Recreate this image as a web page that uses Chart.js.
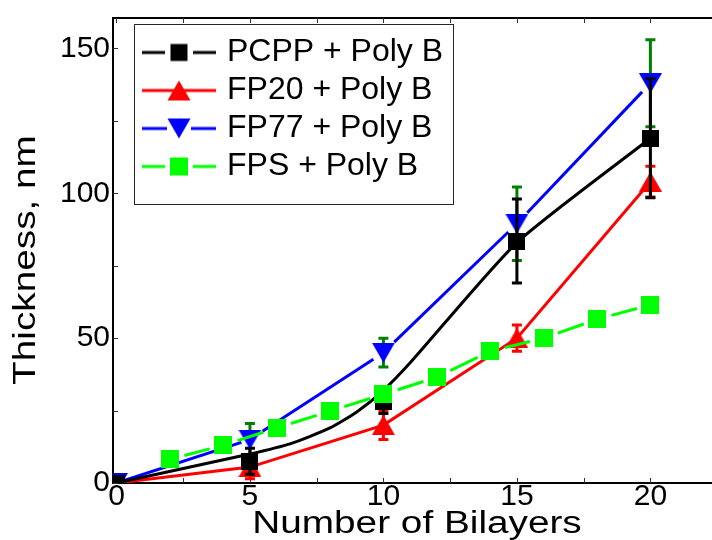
<!DOCTYPE html>
<html>
<head>
<meta charset="utf-8">
<script src="https://cdn.jsdelivr.net/npm/chart.js@4.4.1/dist/chart.umd.min.js"></script>
<style>
  html, body { margin: 0; padding: 0; background: #fff; overflow: hidden; }
  #wrap { width: 712px; height: 540px; overflow: hidden; }
  canvas { display: block; }
</style>
</head>
<body>
<div id="wrap"><canvas id="myChart" width="740" height="540"></canvas></div>
<script>
// values
const bilayers = [0, 5, 10, 15, 20];
const pcpp = [0, 7.5, 28, 83.5, 119];
const pcppErr = [0, 4.5, 4, 14.5, 20.5];
const fp20 = [0, 5.5, 20, 50, 104];
const fp20Err = [0, 4, 5, 4.5, 5.3];
const fp77 = [0, 15, 45, 89.5, 138];
const fp77Err = [0, 5.5, 5, 12.7, 15];
const fpsBilayers = [2, 4, 6, 8, 10, 12, 14, 16, 18, 20];
const fps = [8.2, 13, 19, 24.8, 30.6, 36.5, 45.5, 50, 56.5, 61.5];
// guide line drawn through the PCPP data
const fitBilayers = [0, 2.5, 5, 6.5, 8, 9, 10, 11, 15, 20];
const pcppFit = [0, 5, 10, 13.5, 19, 24.5, 32, 41.5, 83, 119];

const seriesLabels = ["PCPP + Poly B", "FP20 + Poly B", "FP77 + Poly B", "FPS + Poly B"];
const xTickValues = [0, 5, 10, 15, 20];
const yTickValues = [0, 50, 100, 150];
const xMinorTicks = [0, 2.5, 5, 7.5, 10, 12.5, 15, 17.5, 20, 22.5];
const yMinorTicks = [0, 25, 50, 75, 100, 125, 150];

const FONT = "'Liberation Sans', Arial, sans-serif";
Chart.defaults.font.family = FONT;

const BLACK = "#000000", RED = "#ff0000", BLUE = "#0000ff", GREEN = "#00ff00", DARKGREEN = "#008000";

function icon(w, h, ...painters) {
  const c = document.createElement("canvas");
  c.width = w; c.height = h;
  const g = c.getContext("2d");
  painters.forEach(p => p(g, w, h));
  return c;
}
function square(color, s) {
  return (g, w, h) => { g.fillStyle = color; g.fillRect((w - s) / 2, (h - s) / 2, s, s); };
}
function triangle(color, tw, th, down) {
  return (g, w, h) => {
    const x0 = (w - tw) / 2, y0 = (h - th) / 2;
    g.fillStyle = color;
    g.beginPath();
    if (down) { g.moveTo(x0, y0); g.lineTo(x0 + tw, y0); g.lineTo(w / 2, y0 + th); }
    else { g.moveTo(w / 2, y0); g.lineTo(x0 + tw, y0 + th); g.lineTo(x0, y0 + th); }
    g.closePath();
    g.fill();
  };
}
function strokes(color, segs) {
  return (g, w, h) => {
    g.strokeStyle = color; g.lineWidth = 3;
    g.beginPath();
    segs.forEach(([a, b]) => { g.moveTo(a, h / 2); g.lineTo(b, h / 2); });
    g.stroke();
  };
}

const markerBlack = icon(17, 17, square(BLACK, 17));
const markerRed = icon(23, 20, triangle(RED, 23, 20, false));
const markerBlue = icon(23, 20, triangle(BLUE, 23, 20, true));
const markerGreen = icon(18, 18, square(GREEN, 18));

const legendIcons = [
  icon(74, 24, strokes(BLACK, [[0, 23], [51, 74]]), square(BLACK, 17)),
  icon(74, 24, strokes(RED, [[0, 74]]), triangle(RED, 23, 20, false)),
  icon(74, 24, strokes(BLUE, [[0, 25], [49, 74]]), triangle(BLUE, 23, 20, true)),
  icon(74, 24, strokes(GREEN, [[0, 23], [51, 74]]), square(GREEN, 18))
];

// one dash per segment, leaving a small gap at each marker
function gapDash(gapOut, gapIn) {
  return {
    borderDash: c => {
      const len = Math.hypot(c.p1.x - c.p0.x, c.p1.y - c.p0.y);
      return [Math.max(len - gapOut(c.p0DataIndex) - gapIn(c.p1DataIndex), 0.01), 4000];
    },
    borderDashOffset: c => -gapOut(c.p0DataIndex) - c.p0DataIndex * 0.001
  };
}

const pts = (xs, ys) => xs.map((x, i) => ({ x: x, y: ys[i] }));

const errorBars = {
  0: { values: pcpp, err: pcppErr, color: BLACK },
  1: { values: fp20, err: fp20Err, color: RED },
  2: { values: fp77, err: fp77Err, color: DARKGREEN }
};

const errorBarPlugin = {
  id: "errorBars",
  beforeDatasetDraw(chart, args) {
    const bars = errorBars[args.index];
    if (!bars) return;
    const ctx = chart.ctx, y = chart.scales.y;
    ctx.save();
    ctx.strokeStyle = bars.color;
    ctx.lineWidth = 3;
    ctx.beginPath();
    args.meta.data.forEach((pt, i) => {
      const e = bars.err[i];
      if (!e) return;
      const top = y.getPixelForValue(bars.values[i] + e);
      const bot = y.getPixelForValue(bars.values[i] - e);
      ctx.moveTo(pt.x, top); ctx.lineTo(pt.x, bot);
      ctx.moveTo(pt.x - 5, top); ctx.lineTo(pt.x + 5, top);
      ctx.moveTo(pt.x - 5, bot); ctx.lineTo(pt.x + 5, bot);
    });
    ctx.stroke();
    ctx.restore();
  }
};

const framePlugin = {
  id: "frame",
  afterLayout(chart) {
    // the axis titles in the figure are stretched along the text direction
    ["x", "y"].forEach(id => {
      const s = chart.scales[id];
      if (s._stretched) return;
      const orig = s.drawTitle;
      s.drawTitle = function () {
        const ctx = this.ctx;
        ctx.save();
        if (this.axis === "y") {
          const cy = (this.top + this.bottom) / 2 + 9.5;
          ctx.translate(0, cy); ctx.scale(1, 1.25); ctx.translate(0, -cy + 9.5);
        } else {
          const cx = (this.left + this.right) / 2 + 1;
          ctx.translate(cx, 0); ctx.scale(1.25, 1); ctx.translate(-cx + 1, 0);
        }
        orig.call(this);
        ctx.restore();
      };
      s._stretched = true;
    });
  },
  beforeDraw(chart) {
    const lg = chart.legend;
    lg.left = chart.chartArea.left + 28;
    lg.top = chart.chartArea.top + 12.5;
  },
  beforeDatasetsDraw(chart) {
    const { ctx, chartArea: a, scales: { x, y } } = chart;
    const lg = chart.legend;
    ctx.save();
    ctx.strokeStyle = "#262626";
    ctx.lineWidth = 1;
    ctx.strokeRect(Math.round(lg.left - 7) + 0.5, Math.round(lg.top - 7) + 0.5, 319, 180);

    ctx.strokeStyle = "#000";
    ctx.lineWidth = 2;
    ctx.beginPath();
    ctx.moveTo(a.left, a.top); ctx.lineTo(a.right, a.top);
    ctx.stroke();

    ctx.lineWidth = 1;
    ctx.strokeStyle = "#333";
    ctx.beginPath();
    xMinorTicks.forEach(v => {
      const px = Math.round(x.getPixelForValue(v)) + 0.5;
      ctx.moveTo(px, a.bottom); ctx.lineTo(px, a.bottom - 5);
      ctx.moveTo(px, a.top); ctx.lineTo(px, a.top + 5);
    });
    yMinorTicks.forEach(v => {
      const py = Math.round(y.getPixelForValue(v)) + 0.5;
      ctx.moveTo(a.left, py); ctx.lineTo(a.left + 5, py);
    });
    ctx.stroke();
    ctx.restore();
  }
};

new Chart(document.getElementById("myChart"), {
  type: "line",
  data: {
    datasets: [
      {
        label: seriesLabels[0],
        data: pts(bilayers, pcpp),
        showLine: false,
        pointStyle: markerBlack,
        pointRadius: 9,
        borderColor: BLACK,
        backgroundColor: BLACK,
        order: 2,
        clip: 0
      },
      {
        label: seriesLabels[1],
        data: pts(bilayers, fp20),
        borderColor: RED,
        backgroundColor: RED,
        borderWidth: 3,
        pointStyle: markerRed,
        pointRadius: 10,
        order: 5,
        clip: 0
      },
      {
        label: seriesLabels[2],
        data: pts(bilayers, fp77),
        borderColor: BLUE,
        backgroundColor: BLUE,
        borderWidth: 3,
        pointStyle: markerBlue,
        pointRadius: 10,
        segment: gapDash(i => (i === 0 ? 0 : 15), i => (i === 1 ? 9 : 12)),
        order: 4,
        clip: 0
      },
      {
        label: seriesLabels[3],
        data: pts(fpsBilayers, fps),
        borderColor: GREEN,
        backgroundColor: GREEN,
        borderWidth: 3,
        pointStyle: markerGreen,
        pointRadius: 9,
        segment: gapDash(() => 15, () => 14),
        order: 1,
        clip: 0
      },
      {
        label: "",
        data: pts(fitBilayers, pcppFit),
        borderColor: BLACK,
        borderWidth: 3,
        pointRadius: 0,
        tension: 0.2,
        order: 3,
        clip: 0
      }
    ]
  },
  options: {
    responsive: false,
    animation: false,
    events: [],
    layout: { padding: { left: 0, top: 11, right: 21, bottom: 0 } },
    scales: {
      x: {
        type: "linear",
        min: -0.13,
        max: 22.57,
        afterBuildTicks: s => { s.ticks = xTickValues.map(v => ({ value: v })); },
        afterFit: s => { s.height = 57; },
        grid: { display: false, drawTicks: false },
        border: { display: true, color: "#000", width: 2 },
        ticks: {
          color: "#000",
          font: { size: 30, lineHeight: 1 },
          padding: -1,
          maxRotation: 0,
          autoSkip: false
        },
        title: {
          display: true,
          text: "Number of Bilayers",
          color: "#000",
          font: { size: 31, lineHeight: 1 },
          padding: { top: 0, bottom: 0 }
        }
      },
      y: {
        type: "linear",
        min: 0,
        max: 160.5,
        afterBuildTicks: s => { s.ticks = yTickValues.map(v => ({ value: v })); },
        afterFit: s => { s.width = 113; },
        grid: { display: false, drawTicks: false },
        border: { display: true, color: "#000", width: 2 },
        ticks: {
          color: "#000",
          font: { size: 30, lineHeight: 1 },
          padding: 3
        },
        title: {
          display: true,
          text: "Thickness, nm",
          color: "#000",
          font: { size: 31, lineHeight: 1 },
          padding: { top: 11, bottom: 0 }
        }
      }
    },
    plugins: {
      tooltip: { enabled: false },
      legend: {
        position: "chartArea",
        align: "start",
        labels: {
          usePointStyle: true,
          pointStyleWidth: 64,
          padding: 6,
          color: "#000",
          font: { size: 32, lineHeight: 1 },
          generateLabels: chart => chart.data.datasets.slice(0, 4).map((ds, i) => ({
            text: ds.label,
            pointStyle: legendIcons[i],
            datasetIndex: i,
            fillStyle: ds.borderColor,
            strokeStyle: ds.borderColor,
            lineWidth: 0,
            hidden: false,
            fontColor: "#000"
          }))
        }
      }
    }
  },
  plugins: [errorBarPlugin, framePlugin]
});
</script>
</body>
</html>
